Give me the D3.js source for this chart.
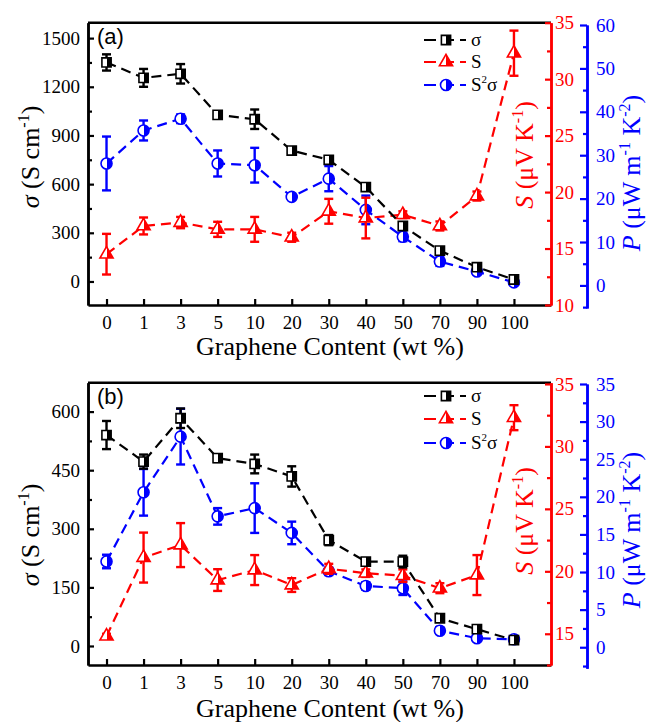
<!DOCTYPE html>
<html>
<head>
<meta charset="utf-8">
<script src="https://cdn.jsdelivr.net/npm/d3@7/dist/d3.min.js"></script>
<style>
  body { margin: 0; background: #fff; }
  svg text { font-family: "Liberation Serif", "DejaVu Serif", "Times New Roman", Times, serif; }
</style>
</head>
<body>
<div id="chart"></div>
<script>
// graphene content categories (x axis, equally spaced)
var categories = ["0", "1", "3", "5", "10", "20", "30", "40", "50", "70", "90", "100"];

// panel (a)
var sigmaA = [1350, 1255, 1280, 1027, 1000, 807, 750, 582, 342, 190, 88, 12];
var sigmaAErr = [50, 55, 60, 15, 60, 20, 20, 20, 20, 15, 10, 8];
var seebeckA = [14.5, 17.0, 17.3, 16.7, 16.7, 16.0, 18.3, 17.7, 18.0, 17.0, 19.65, 32.3];
var seebeckAErr = [1.8, 0.75, 0.5, 0.67, 1.1, 0.4, 1.1, 1.8, 0.3, 0.4, 0.4, 2.0];
var pfA = [28.1, 35.7, 38.4, 28.1, 27.7, 20.4, 24.6, 17.4, 11.2, 5.5, 3.2, 0.7];
var pfAErr = [6.2, 2.3, 1.0, 3.0, 4.0, 0.7, 2.9, 3.3, 1.0, 1.0, 0.6, 0.5];

// panel (b)
var sigmaB = [540, 472, 583, 481, 466, 434, 271, 216, 216, 71, 43, 15];
var sigmaBErr = [36, 18, 25, 10, 24, 26, 13, 8, 15, 8, 6, 5];
var seebeckB = [14.8, 21.1, 22.1, 19.3, 20.1, 18.9, 20.2, 19.85, 19.65, 18.65, 19.7, 32.3];
var seebeckBErr = [0.2, 2.0, 1.76, 0.87, 1.2, 0.55, 0.4, 0.3, 0.5, 0.4, 1.6, 1.0];
var pfB = [11.4, 20.6, 28.0, 17.4, 18.5, 15.2, 10.1, 8.15, 7.85, 2.2, 1.2, 1.06];
var pfBErr = [0.9, 3.1, 3.7, 1.1, 3.3, 1.5, 0.5, 0.5, 0.9, 0.4, 0.3, 0.3];

// tick values
var sigmaTicksA = [0, 300, 600, 900, 1200, 1500];
var sigmaTicksB = [0, 150, 300, 450, 600];
var seebeckTicksA = [10, 15, 20, 25, 30, 35];
var seebeckTicksB = [15, 20, 25, 30, 35];
var pfTicksA = [0, 10, 20, 30, 40, 50, 60];
var pfTicksB = [0, 5, 10, 15, 20, 25, 30, 35];

var RED = "#ff0000", BLUE = "#0000ff";
var SERIF = "'Liberation Serif', 'DejaVu Serif', 'Times New Roman', Times, serif";

var svg = d3.select("#chart")
  .append("svg")
    .attr("width", 648)
    .attr("height", 722);

// half filled marker fills (right half coloured)
var defs = svg.append("defs");
[["half-black", "#000"], ["half-red", RED], ["half-blue", BLUE]].forEach(function(p) {
  var g = defs.append("linearGradient").attr("id", p[0])
    .attr("x1", 0).attr("x2", 1).attr("y1", 0).attr("y2", 0);
  g.append("stop").attr("offset", "50%").attr("stop-color", "#fff");
  g.append("stop").attr("offset", "50%").attr("stop-color", p[1]);
});

var symSquare = d3.symbol().type(d3.symbolSquare).size(85);
var symTri = d3.symbol().type(d3.symbolTriangle).size(75);
var symCircle = d3.symbol().type(d3.symbolCircle).size(95);

function drawPanel(cfg) {
  var left = 88, right = 551, top = cfg.top, bottom = cfg.bottom;
  var g = svg.append("g");

  var x = d3.scaleLinear().domain([-0.5, 12]).range([left, right]);
  var y = d3.scaleLinear().domain(cfg.sigmaDomain).range([bottom, top]);
  var yS = d3.scaleLinear().domain(cfg.seebeckDomain).range([bottom, top]);
  var yP = d3.scaleLinear().domain(cfg.pfDomain).range(cfg.pfRange);
  var fmt = d3.format("d");

  // top frame line
  g.append("line")
    .attr("x1", left).attr("x2", right).attr("y1", top).attr("y2", top)
    .attr("stroke", "#000").attr("stroke-width", 2.5);

  // x axis
  var xAxis = g.append("g")
    .attr("transform", "translate(0," + bottom + ")")
    .call(d3.axisBottom(x)
      .tickValues(d3.range(categories.length))
      .tickFormat(function(i) { return categories[i]; })
      .tickSizeInner(-6).tickSizeOuter(0).tickPadding(11));
  styleAxis(xAxis, "#000");

  // left axis (sigma) with minor ticks
  var minorStep = cfg.sigmaTicks[1] / 2;
  var minorL = g.append("g")
    .attr("transform", "translate(" + left + ",0)")
    .call(d3.axisLeft(y)
      .tickValues(d3.range(cfg.sigmaTicks[0] + minorStep, cfg.sigmaDomain[1], cfg.sigmaTicks[1]))
      .tickSizeInner(-4).tickSizeOuter(0));
  minorL.selectAll("text").remove();
  styleAxis(minorL, "#000");
  var yAxis = g.append("g")
    .attr("transform", "translate(" + left + ",0)")
    .call(d3.axisLeft(y).tickValues(cfg.sigmaTicks).tickFormat(fmt)
      .tickSizeInner(-6).tickSizeOuter(0).tickPadding(8));
  styleAxis(yAxis, "#000");

  // right axis (S), red
  var sStep = cfg.seebeckTicks[1] - cfg.seebeckTicks[0];
  var minorS = g.append("g")
    .attr("transform", "translate(" + right + ",0)")
    .call(d3.axisRight(yS)
      .tickValues(d3.range(cfg.seebeckTicks[0] - sStep / 2, cfg.seebeckDomain[1], sStep)
        .filter(function(v) { return v >= cfg.seebeckDomain[0]; }))
      .tickSizeInner(-4).tickSizeOuter(0));
  minorS.selectAll("text").remove();
  styleAxis(minorS, RED);
  var sAxis = g.append("g")
    .attr("transform", "translate(" + right + ",0)")
    .call(d3.axisRight(yS).tickValues(cfg.seebeckTicks).tickFormat(fmt)
      .tickSizeInner(-6).tickSizeOuter(0).tickPadding(4));
  styleAxis(sAxis, RED);

  // outer right axis (P), blue
  var pStep = cfg.pfTicks[1] - cfg.pfTicks[0];
  var minorP = g.append("g")
    .attr("transform", "translate(587,0)")
    .call(d3.axisRight(yP)
      .tickValues(d3.range(cfg.pfTicks[0] - pStep / 2, cfg.pfDomain[1], pStep)
        .filter(function(v) { return v >= cfg.pfDomain[0]; }))
      .tickSizeInner(-4).tickSizeOuter(0));
  minorP.selectAll("text").remove();
  styleAxis(minorP, BLUE);
  var pAxis = g.append("g")
    .attr("transform", "translate(587,0)")
    .call(d3.axisRight(yP).tickValues(cfg.pfTicks).tickFormat(fmt)
      .tickSizeInner(-7).tickSizeOuter(0).tickPadding(9));
  styleAxis(pAxis, BLUE);

  // series
  drawSeries(g, x, yP, cfg.pf, cfg.pfErr, BLUE, symCircle, "half-blue");
  drawSeries(g, x, yS, cfg.seebeck, cfg.seebeckErr, RED, symTri, "half-red");
  drawSeries(g, x, y, cfg.sigma, cfg.sigmaErr, "#000", symSquare, "half-black");

  // axis titles
  var tl = g.append("text")
    .attr("transform", "translate(39," + cfg.leftTitleY + ") rotate(-90)")
    .attr("text-anchor", "middle").attr("font-size", 26).attr("fill", "#000");
  tl.append("tspan").attr("font-style", "italic").text("σ");
  tl.append("tspan").text(" (S cm");
  tl.append("tspan").attr("font-size", 16).attr("dy", -10).text("-1");
  tl.append("tspan").attr("dy", 10).text(")");

  var tr = g.append("text")
    .attr("transform", "translate(533," + cfg.redTitleY + ") rotate(-90)")
    .attr("text-anchor", "middle").attr("font-size", 26).attr("fill", RED);
  tr.append("tspan").attr("font-style", "italic").text("S");
  tr.append("tspan").text(" (μV K");
  tr.append("tspan").attr("font-size", 16).attr("dy", -10).text("-1");
  tr.append("tspan").attr("dy", 10).text(")");

  var tb = g.append("text")
    .attr("transform", "translate(640," + cfg.blueTitleY + ") rotate(-90)")
    .attr("text-anchor", "middle").attr("font-size", 26).attr("fill", BLUE);
  tb.append("tspan").attr("font-style", "italic").text("P");
  tb.append("tspan").text(" (μW m");
  tb.append("tspan").attr("font-size", 16).attr("dy", -10).text("-1");
  tb.append("tspan").attr("dy", 10).text(" K");
  tb.append("tspan").attr("font-size", 16).attr("dy", -10).text("-2");
  tb.append("tspan").attr("dy", 10).text(")");

  g.append("text")
    .attr("x", 330).attr("y", cfg.xTitleY)
    .attr("text-anchor", "middle").attr("font-size", 26)
    .text("Graphene Content (wt %)");

  // panel letter
  g.append("text")
    .attr("x", 97).attr("y", top + 21)
    .style("font-family", "'Liberation Sans', Arial, sans-serif")
    .attr("font-size", 22).text(cfg.letter);

  // legend
  var legend = [
    {label: "σ", color: "#000", sym: symSquare, fill: "half-black"},
    {label: "S", color: RED, sym: symTri, fill: "half-red"},
    {label: "S2σ", color: BLUE, sym: symCircle, fill: "half-blue"}
  ];
  legend.forEach(function(d, i) {
    var ly = cfg.legendY[i];
    g.append("line")
      .attr("x1", 424).attr("x2", 466).attr("y1", ly).attr("y2", ly)
      .attr("stroke", d.color).attr("stroke-width", 2.2)
      .attr("stroke-dasharray", "12,6");
    g.append("path")
      .attr("d", d.sym())
      .attr("transform", "translate(446," + ly + ")")
      .attr("fill", "url(#" + d.fill + ")")
      .attr("stroke", d.color).attr("stroke-width", 1.6);
    var t = g.append("text").attr("x", 471).attr("y", ly + 6).attr("font-size", 19);
    if (d.label === "S2σ") {
      t.append("tspan").text("S");
      t.append("tspan").attr("font-size", 11).attr("dy", -8).text("2");
      t.append("tspan").attr("dy", 8).text("σ");
    } else {
      t.text(d.label);
    }
  });
}

function styleAxis(ax, color) {
  ax.attr("font-family", null);
  ax.select(".domain").attr("stroke", color).attr("stroke-width", 2.5);
  ax.selectAll(".tick line").attr("stroke", color).attr("stroke-width", 2.2);
  ax.selectAll(".tick text")
    .attr("fill", color)
    .style("font-family", SERIF)
    .style("font-size", "19px");
}

function drawSeries(g, x, y, vals, errs, color, sym, fill) {
  var idx = d3.range(vals.length);
  g.append("path")
    .datum(idx)
    .attr("fill", "none")
    .attr("stroke", color)
    .attr("stroke-width", 2.2)
    .attr("stroke-dasharray", "10,6")
    .attr("d", d3.line()
      .x(function(i) { return x(i); })
      .y(function(i) { return y(vals[i]); }));

  var eb = g.append("g").selectAll("g").data(idx).enter().append("g")
    .attr("stroke", color).attr("stroke-width", 2.4);
  eb.append("line")
    .attr("x1", function(i) { return x(i); })
    .attr("x2", function(i) { return x(i); })
    .attr("y1", function(i) { return y(vals[i] - errs[i]); })
    .attr("y2", function(i) { return y(vals[i] + errs[i]); });
  eb.append("line")
    .attr("x1", function(i) { return x(i) - 4.5; })
    .attr("x2", function(i) { return x(i) + 4.5; })
    .attr("y1", function(i) { return y(vals[i] - errs[i]); })
    .attr("y2", function(i) { return y(vals[i] - errs[i]); });
  eb.append("line")
    .attr("x1", function(i) { return x(i) - 4.5; })
    .attr("x2", function(i) { return x(i) + 4.5; })
    .attr("y1", function(i) { return y(vals[i] + errs[i]); })
    .attr("y2", function(i) { return y(vals[i] + errs[i]); });

  g.append("g").selectAll("path").data(idx).enter().append("path")
    .attr("d", sym())
    .attr("transform", function(i) { return "translate(" + x(i) + "," + y(vals[i]) + ")"; })
    .attr("fill", "url(#" + fill + ")")
    .attr("stroke", color)
    .attr("stroke-width", 1.6);
}

drawPanel({
  letter: "(a)", top: 22.7, bottom: 305,
  sigma: sigmaA, sigmaErr: sigmaAErr, seebeck: seebeckA, seebeckErr: seebeckAErr, pf: pfA, pfErr: pfAErr,
  sigmaDomain: [-145, 1595], sigmaTicks: sigmaTicksA,
  seebeckDomain: [10, 35], seebeckTicks: seebeckTicksA,
  pfDomain: [-5.2, 60], pfRange: [308, 25], pfTicks: pfTicksA,
  leftTitleY: 157, redTitleY: 155, blueTitleY: 173, xTitleY: 355,
  legendY: [40, 62, 85]
});

drawPanel({
  letter: "(b)", top: 382.7, bottom: 665,
  sigma: sigmaB, sigmaErr: sigmaBErr, seebeck: seebeckB, seebeckErr: seebeckBErr, pf: pfB, pfErr: pfBErr,
  sigmaDomain: [-48.7, 674], sigmaTicks: sigmaTicksB,
  seebeckDomain: [12.5, 35.1], seebeckTicks: seebeckTicksB,
  pfDomain: [-2.8, 35], pfRange: [668.3, 384], pfTicks: pfTicksB,
  leftTitleY: 535, redTitleY: 521, blueTitleY: 530, xTitleY: 717,
  legendY: [396, 419, 443]
});
</script>
</body>
</html>
